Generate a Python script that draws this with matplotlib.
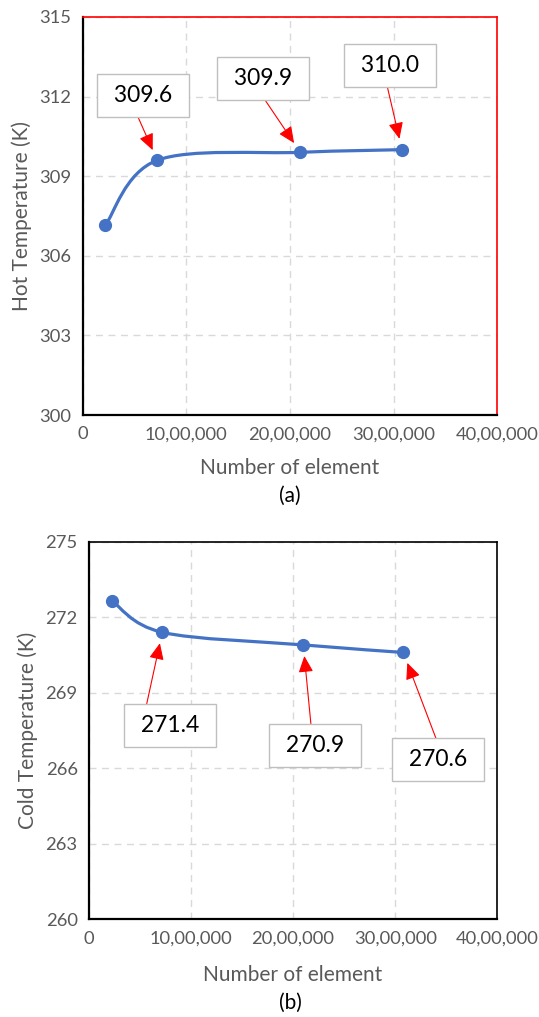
import numpy as np
import matplotlib.pyplot as plt
from matplotlib.path import Path
from matplotlib.patches import PathPatch

plt.rcParams['font.family'] = ['Lato', 'DejaVu Sans']

# mesh study results
hot_elements = [220000, 720000, 2100000, 3080000]
hot_temp = [307.15, 309.6, 309.9, 310.0]
cold_elements = [225000, 720000, 2100000, 3080000]
cold_temp = [272.66, 271.4, 270.9, 270.6]

x_ticks = [0, 1000000, 2000000, 3000000, 4000000]
x_tick_labels = ['0', '10,00,000', '20,00,000', '30,00,000', '40,00,000']
hot_ticks = [300, 303, 306, 309, 312, 315]
cold_ticks = [260, 263, 266, 269, 272, 275]

# callouts: point index, box centre, arrow start (data units)
hot_callouts = [(1, (583000, 312.06), (535000, 311.23)),
                (2, (1736000, 312.70), (1760000, 311.87)),
                (3, (2965000, 313.19), (2940000, 312.35))]
cold_callouts = [(1, (795000, 267.69), (567000, 268.55)),
                 (2, (2211000, 266.89), (2175000, 267.75)),
                 (3, (3421000, 266.36), (3398000, 267.20))]

BLUE = '#4472C4'
GREY = '#595959'


def smooth_path(x, y):
    # Bezier segments through every point (spreadsheet style smoothing)
    pts = np.column_stack([x, y]).astype(float)
    n = len(pts)
    verts = [pts[0]]
    codes = [Path.MOVETO]
    for i in range(n - 1):
        p_prev = pts[max(i - 1, 0)]
        p_next = pts[min(i + 2, n - 1)]
        c1 = pts[i] + (pts[i + 1] - p_prev) / 6
        c2 = pts[i + 1] - (p_next - pts[i]) / 6
        verts += [c1, c2, pts[i + 1]]
        codes += [Path.CURVE4] * 3
    return Path(verts, codes)


def draw_panel(ax, x, y, yticks, callouts, frame_color):
    ax.add_patch(PathPatch(smooth_path(x, y), fill=False, edgecolor=BLUE,
                           linewidth=2.3, capstyle='round', zorder=3))
    ax.plot(x, y, linestyle='none', marker='o', markersize=8.5,
            color=BLUE, zorder=4)

    ax.set_xlim(0, 4000000)
    ax.set_ylim(yticks[0], yticks[-1])
    ax.set_xticks(x_ticks)
    ax.set_xticklabels(x_tick_labels)
    ax.set_yticks(yticks)
    ax.tick_params(length=0, labelsize=13.2, labelcolor=GREY, pad=8)
    ax.grid(True, color='#d9d9d9', linestyle=(0, (5, 4)), linewidth=1.0)
    ax.set_axisbelow(True)

    for side in ['left', 'bottom']:
        ax.spines[side].set_color('black')
        ax.spines[side].set_linewidth(1.6)
    for side in ['top', 'right']:
        ax.spines[side].set_color(frame_color)
        ax.spines[side].set_linewidth(1.2)

    for idx, box_pos, arrow_start in callouts:
        ax.annotate('', xy=(x[idx], y[idx]), xytext=arrow_start,
                    arrowprops=dict(arrowstyle='-|>,head_length=1.0,head_width=0.45',
                                    mutation_scale=10, color='red', lw=0.8,
                                    shrinkA=0, shrinkB=8), zorder=5)
        ax.text(box_pos[0], box_pos[1], ' %.1f ' % y[idx], fontsize=16.5,
                ha='center', va='center', color='black', zorder=6,
                bbox=dict(boxstyle='square,pad=0.48', facecolor='white',
                          edgecolor='#bfbfbf', linewidth=1.0))


fig = plt.figure(figsize=(5.39, 10.17), dpi=100)

ax1 = fig.add_axes([0.1531, 0.5919, 0.7697, 0.3914])
draw_panel(ax1, hot_elements, hot_temp, hot_ticks, hot_callouts, 'red')

ax2 = fig.add_axes([0.1646, 0.0959, 0.7582, 0.3715])
draw_panel(ax2, cold_elements, cold_temp, cold_ticks, cold_callouts, 'black')

W, H = 539, 1017
fig.text(22 / W, 1 - 216 / H, 'Hot Temperature (K)', rotation=90,
         ha='center', va='center', fontsize=15, color=GREY)
fig.text(290 / W, 1 - 468 / H, 'Number of element', ha='center',
         va='center', fontsize=15, color=GREY)
fig.text(290 / W, 1 - 496 / H, '(a)', ha='center', va='center', fontsize=15)

fig.text(28 / W, 1 - 730 / H, 'Cold Temperature (K)', rotation=90,
         ha='center', va='center', fontsize=15, color=GREY)
fig.text(293 / W, 1 - 975 / H, 'Number of element', ha='center',
         va='center', fontsize=15, color=GREY)
fig.text(290 / W, 1 - 1003 / H, '(b)', ha='center', va='center', fontsize=15)

fig.savefig('out.png', dpi=100)
